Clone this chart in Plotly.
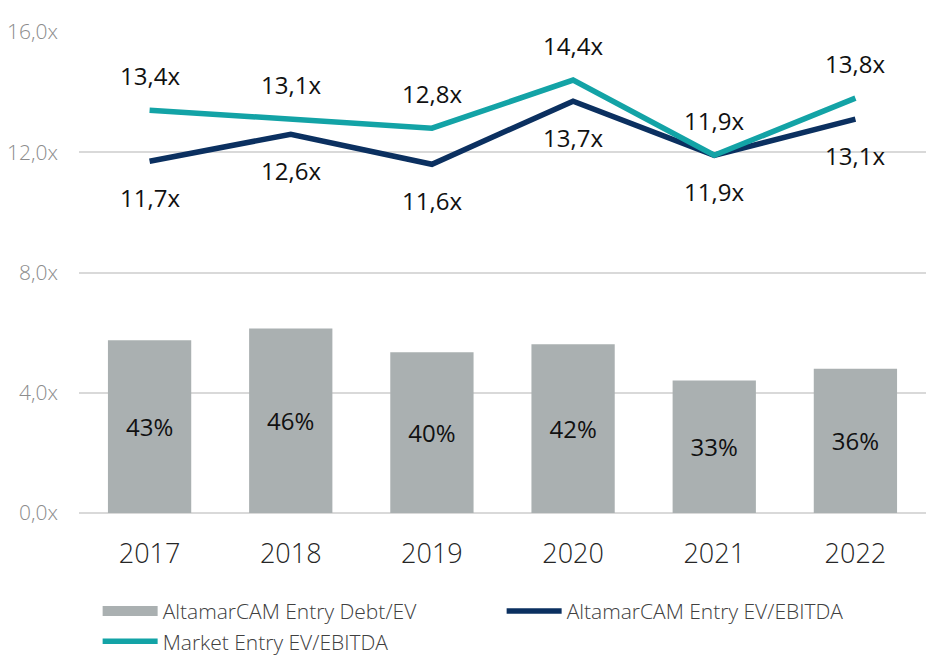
import plotly.graph_objects as go

years = ["2017", "2018", "2019", "2020", "2021", "2022"]
debt_ev_bar = [5.75, 6.14, 5.35, 5.61, 4.41, 4.80]
debt_ev_labels = ["43%", "46%", "40%", "42%", "33%", "36%"]
altamar_ev_ebitda = [11.7, 12.6, 11.6, 13.7, 11.9, 13.1]
market_ev_ebitda = [13.4, 13.1, 12.8, 14.4, 11.9, 13.8]
ytick_vals = [0, 4, 8, 12, 16]
ytick_text = ["0,0x", "4,0x", "8,0x", "12,0x", "16,0x"]

def fmt(v):
    return f"{v:.1f}".replace(".", ",") + "x"

FONT = "Open Sans"
BAR_COLOR = "#AAB0B1"
LBL = dict(family=FONT, size=24, color="#111111", weight=500)

fig = go.Figure()
fig.add_trace(go.Bar(
    x=years, y=debt_ev_bar, name="AltamarCAM Entry Debt/EV", showlegend=False,
    marker=dict(color=BAR_COLOR, line=dict(width=0)),
    width=0.59, text=debt_ev_labels, textposition="inside",
    insidetextanchor="middle", textfont=LBL,
))
# legend entry for bars (wide rectangular swatch)
fig.add_trace(go.Scatter(
    x=[None], y=[None], name="AltamarCAM Entry Debt/EV", mode="lines",
    line=dict(color=BAR_COLOR, width=14),
))
fig.add_trace(go.Scatter(
    x=years, y=altamar_ev_ebitda, name="AltamarCAM Entry EV/EBITDA",
    mode="lines", line=dict(color="#0B3060", width=5.5),
))
fig.add_trace(go.Scatter(
    x=years, y=market_ev_ebitda, name="Market Entry EV/EBITDA",
    mode="lines", line=dict(color="#13A3A6", width=5.5),
))

for i, v in enumerate(market_ev_ebitda):
    fig.add_annotation(x=i, y=v, text=fmt(v), showarrow=False, yshift=35, font=LBL)
for i, v in enumerate(altamar_ev_ebitda):
    fig.add_annotation(x=i, y=v, text=fmt(v), showarrow=False, yshift=-36, font=LBL)

fig.update_layout(
    width=940, height=671,
    margin=dict(l=71, r=22, t=24, b=166, autoexpand=False),
    plot_bgcolor="white", paper_bgcolor="white",
    showlegend=True,
    legend=dict(orientation="h", x=0.022, xanchor="left", y=-0.162, yanchor="top",
                font=dict(family=FONT, size=21, color="#404040", weight=300),
                entrywidth=334, entrywidthmode="pixels", traceorder="normal",
                itemwidth=55, tracegroupgap=0),
    font=dict(family=FONT),
)
fig.update_xaxes(type="category", range=[-0.5, 5.5], showgrid=False, showline=False,
                 ticks="", ticklabelstandoff=22, automargin=False,
                 tickfont=dict(family=FONT, size=27, color="#262626", weight=300))
fig.update_yaxes(range=[0, 16], tickvals=ytick_vals, ticktext=ytick_text,
                 showgrid=True, gridcolor="#D9D9D9", gridwidth=1.5,
                 zeroline=True, zerolinecolor="#D9D9D9", zerolinewidth=1.5,
                 automargin=False,
                 tickfont=dict(family=FONT, size=21, color="#8C8C8C", weight=300),
                 ticklabelstandoff=20)

fig.write_html("out.html")
